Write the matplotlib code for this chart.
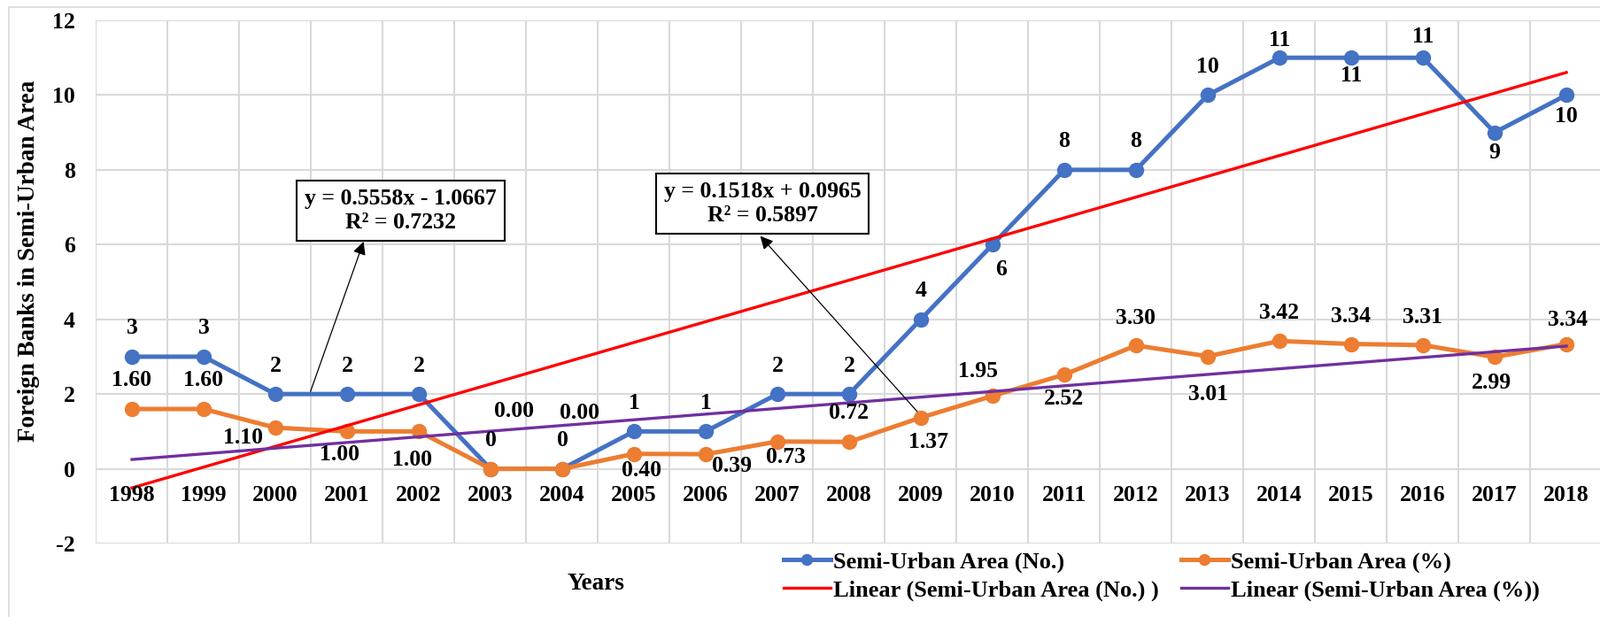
import matplotlib.pyplot as plt
import matplotlib.patches as patches
import numpy as np

plt.rcParams["font.family"] = ["Liberation Serif", "DejaVu Serif"]
plt.rcParams["font.weight"] = "bold"
plt.rcParams["axes.unicode_minus"] = False

years = [str(y) for y in range(1998, 2019)]
semi_no = [3, 3, 2, 2, 2, 0, 0, 1, 1, 2, 2, 4, 6, 8, 8, 10, 11, 11, 11, 9, 10]
semi_pct = [1.60, 1.60, 1.10, 1.00, 1.00, 0.00, 0.00, 0.40, 0.39, 0.73, 0.72,
            1.37, 1.95, 2.52, 3.30, 3.01, 3.42, 3.34, 3.31, 2.99, 3.34]
no_labels = [str(v) for v in semi_no]
pct_labels = ["%.2f" % v for v in semi_pct]
eq_no = "y = 0.5558x - 1.0667\nR² = 0.7232"
eq_pct = "y = 0.1518x + 0.0965\nR² = 0.5897"

# label offsets (x in categories, y in data units), as placed in the original
no_dx = [0] * 21
no_dx[12] = 0.12
no_dy = [0.76] * 21
no_dy[12] = -0.68
no_dy[16] = 0.46
no_dy[17] = -0.47
no_dy[18] = 0.55
no_dy[19] = -0.54
no_dy[20] = -0.58

pct_dx = [0, 0, -0.45, -0.10, -0.09, 0.33, 0.24, 0.11, 0.36, 0.12, 0,
          0.11, -0.20, 0, 0, 0.01, 0, 0, 0, -0.05, 0.02]
pct_dy = [0.76, 0.76, -0.28, -0.62, -0.75, 1.53, 1.49, -0.45, -0.31, -0.43, 0.78,
          -0.655, 0.66, -0.64, 0.74, -1.02, 0.76, 0.74, 0.74, -0.70, 0.65]

BLUE = "#4472C4"
ORANGE = "#ED7D31"
RED = "#FF0000"
PURPLE = "#7030A0"
GRID = "#D9D9D9"
FS = 18.5

x = np.arange(len(years))

fig = plt.figure(figsize=(18.08, 6.97), dpi=100)
ax = fig.add_axes([108.5 / 1808, 83 / 697, 1701 / 1808, 591 / 697])

ax.set_xlim(-0.5, 20.5)
ax.set_ylim(-2, 12)
ax.set_xticks(np.arange(-0.5, 21, 1))
ax.set_xticklabels([])
ax.set_yticks(range(-2, 13, 2))
ax.tick_params(axis="both", length=0)
ax.tick_params(axis="y", labelsize=FS, pad=17)
for lab in ax.get_yticklabels():
    lab.set_fontweight("bold")
ax.grid(True, color=GRID, lw=1.5, zorder=0)
ax.set_axisbelow(True)
for s in ax.spines.values():
    s.set_visible(False)

l1, = ax.plot(x, semi_no, color=BLUE, lw=3.6, marker="o", ms=11.5, zorder=3,
              label="Semi-Urban Area (No.)")
l2, = ax.plot(x, semi_pct, color=ORANGE, lw=3.6, marker="o", ms=11.5, zorder=3,
              label="Semi-Urban Area (%)")

# linear trend lines (excel numbers x from 1)
xn = x + 1
p1 = np.polyfit(xn, semi_no, 1)
p2 = np.polyfit(xn, semi_pct, 1)
l3, = ax.plot(x, np.polyval(p1, xn), color=RED, lw=2.4, zorder=4,
              label="Linear (Semi-Urban Area (No.) )")
l4, = ax.plot(x, np.polyval(p2, xn), color=PURPLE, lw=2.4, zorder=4,
              label="Linear (Semi-Urban Area (%))")

for i in range(len(years)):
    ax.text(x[i] + no_dx[i], semi_no[i] + no_dy[i], no_labels[i], ha="center",
            va="center", fontsize=FS, fontweight="bold", zorder=5)
    ax.text(x[i] + pct_dx[i], semi_pct[i] + pct_dy[i], pct_labels[i], ha="center",
            va="center", fontsize=FS, fontweight="bold", zorder=5)
    ax.text(x[i], -0.72, years[i], ha="center", va="center", fontsize=FS,
            fontweight="bold", zorder=5)

box = dict(boxstyle="square,pad=0.35", fc="white", ec="black", lw=1.5)
ax.text(3.75, 6.91, eq_no, ha="center", va="center", fontsize=FS,
        fontweight="bold", bbox=box, linespacing=1.2, zorder=6)
ax.text(8.79, 7.10, eq_pct, ha="center", va="center", fontsize=FS,
        fontweight="bold", bbox=box, linespacing=1.2, zorder=6)
arrow = dict(arrowstyle="-|>", color="black", lw=0.9, mutation_scale=22,
             shrinkA=0, shrinkB=0)
ax.annotate("", xy=(3.23, 6.08), xytext=(2.49, 2.07), arrowprops=arrow, zorder=6)
ax.annotate("", xy=(8.76, 6.23), xytext=(10.95, 1.53), arrowprops=arrow, zorder=6)

fig.text(33 / 1808, 1 - 295 / 697, "Foreign Banks in Semi-Urban Area", rotation=90,
         ha="center", va="center", fontsize=19.5, fontweight="bold")
fig.text(673 / 1808, 1 - 660 / 697, "Years", ha="center", va="center",
         fontsize=19.5, fontweight="bold")

fig.legend(handles=[l1, l3, l2, l4], ncol=2, loc="upper left",
           bbox_to_anchor=(885 / 1808, 1 - 623 / 697), frameon=False,
           borderpad=0, borderaxespad=0, handlelength=2.0, markerscale=0.75,
           handletextpad=0.12, columnspacing=0.95, labelspacing=0.3,
           prop={"weight": "bold", "size": 19})

# outer chart border
fig.patches.append(patches.Rectangle((10 / 1808, -0.1), 1.2, 1.1 - 8 / 697,
                                     transform=fig.transFigure, fill=False,
                                     ec=GRID, lw=1.2))

fig.savefig("out.png", dpi=100)
